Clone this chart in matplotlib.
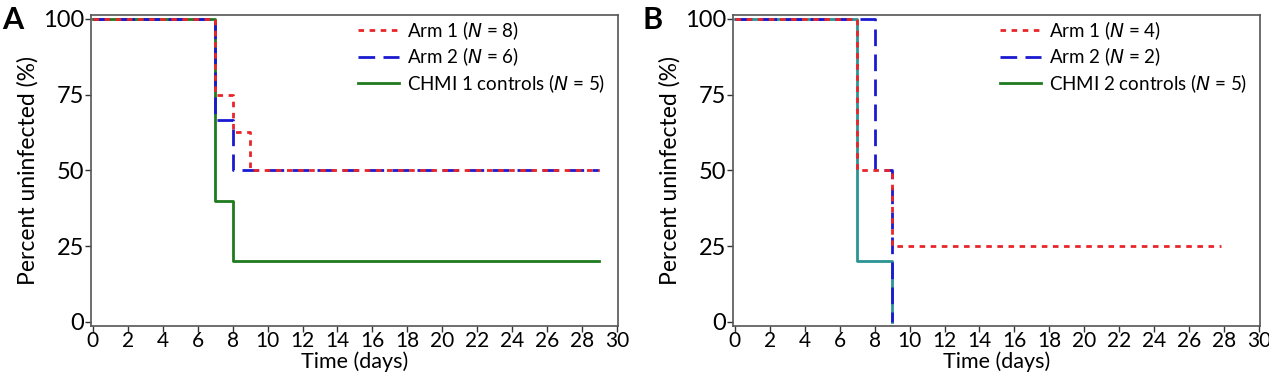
import numpy as np
import matplotlib
matplotlib.use('Agg')
import matplotlib.pyplot as plt
from matplotlib.lines import Line2D

plt.rcParams['font.family'] = ['Lato', 'DejaVu Sans']

# Panel A: Kaplan-Meier step data (time in days, percent uninfected)
a_arm1_t = [0, 7, 8, 9, 29]
a_arm1_y = [100, 75, 62.5, 50, 50]
a_arm2_t = [0, 7, 8, 29]
a_arm2_y = [100, 66.7, 50, 50]
a_ctrl_t = [0, 7, 8, 29]
a_ctrl_y = [100, 40, 20, 20]

# Panel B
b_arm1_t = [0, 7, 9, 27.8]
b_arm1_y = [100, 50, 25, 25]
b_arm2_t = [0, 8, 9, 9]
b_arm2_y = [100, 50, 0, 0]
b_ctrl_t = [0, 7, 9, 9]
b_ctrl_y = [100, 20, 0, 0]

labels_a = ['Arm 1 ($\\it{N}$ = 8)', 'Arm 2 ($\\it{N}$ = 6)', 'CHMI 1 controls ($\\it{N}$ = 5)']
labels_b = ['Arm 1 ($\\it{N}$ = 4)', 'Arm 2 ($\\it{N}$ = 2)', 'CHMI 2 controls ($\\it{N}$ = 5)']

red = '#e8262a'
blue = '#1a1ad0'
green = '#1f7a1f'
teal = '#2a9494'

fig = plt.figure(figsize=(12.69, 3.79), dpi=100)
axA = fig.add_axes([0.0717, 0.14, 0.4153, 0.82])
axB = fig.add_axes([0.5776, 0.14, 0.4153, 0.82])


def style(ax):
    ax.set_xlim(-0.11, 30.06)
    ax.set_ylim(-1.3, 101.2)
    ax.set_xticks(np.arange(0, 31, 2))
    ax.set_yticks([0, 25, 50, 75, 100])
    ax.tick_params(axis='y', labelsize=17, length=4, width=1, color='#333333', pad=1)
    ax.tick_params(axis='x', labelsize=15, length=4, width=1, color='#333333', pad=0)
    for s in ax.spines.values():
        s.set_color('#555555')
        s.set_linewidth(1.2)
    ax.set_xlabel('Time (days)', fontsize=15.5, labelpad=0)
    ax.set_ylabel('Percent uninfected (%)', fontsize=16.5, labelpad=3)


def add_legend(ax, handles, labels):
    ax.legend(handles, labels, loc='upper right', bbox_to_anchor=(1.0, 1.03),
              frameon=False, fontsize=13.5, handlelength=2.2, labelspacing=0.2,
              borderaxespad=0.3, handletextpad=0.4)


# Panel A
axA.step(a_ctrl_t, a_ctrl_y, where='post', color=green, lw=2, zorder=2)
axA.step(a_arm2_t, a_arm2_y, where='post', color=blue, lw=2, dashes=(6, 3), zorder=3)
axA.step(a_arm1_t, a_arm1_y, where='post', color=red, lw=2, dashes=(2, 2), zorder=4)
style(axA)
handles_a = [Line2D([], [], color=red, lw=2, dashes=(2, 2)),
             Line2D([], [], color=blue, lw=2, dashes=(6, 3)),
             Line2D([], [], color=green, lw=2)]
add_legend(axA, handles_a, labels_a)

# Panel B
axB.step(b_ctrl_t, b_ctrl_y, where='post', color=teal, lw=2, zorder=2)
axB.step(b_arm2_t, b_arm2_y, where='post', color=blue, lw=2, dashes=(6, 3), zorder=3)
axB.step(b_arm1_t, b_arm1_y, where='post', color=red, lw=2, dashes=(2, 2), zorder=4)
style(axB)
handles_b = [Line2D([], [], color=red, lw=2, dashes=(2, 2)),
             Line2D([], [], color=blue, lw=2, dashes=(6, 3)),
             Line2D([], [], color=green, lw=2)]
add_legend(axB, handles_b, labels_b)

fig.text(0.002, 0.985, 'A', fontsize=22, fontweight='bold', va='top', ha='left')
fig.text(0.506, 0.985, 'B', fontsize=22, fontweight='bold', va='top', ha='left')

fig.savefig('out.png', dpi=100)
